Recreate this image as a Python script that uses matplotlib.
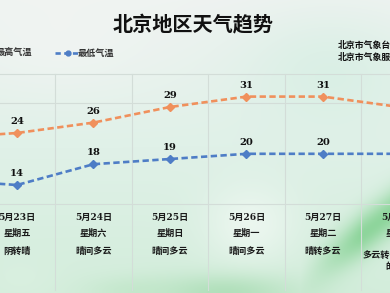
import numpy as np
import matplotlib
matplotlib.use("Agg")
import matplotlib.pyplot as plt
from matplotlib.colors import to_rgb

plt.rcParams['font.family'] = ['Noto Sans CJK SC', 'DejaVu Sans']

# ---------------- data ----------------
dates = ["5月22日", "5月23日", "5月24日", "5月25日", "5月26日", "5月27日", "5月28日"]
weekdays = ["星期四", "星期五", "星期六", "星期日", "星期一", "星期二", "星期三"]
weather = ["晴", "阴转晴", "晴间多云", "晴间多云", "晴间多云", "晴转多云", "多云转午后有分散\n的阵雨"]
high = [23, 24, 26, 29, 31, 31, 29]
low = [15, 14, 18, 19, 20, 20, 20]
title = "北京地区天气趋势"
legend_high = "最高气温"
legend_low = "最低气温"
source_lines = ["北京市气象台", "北京市气象服务中心"]
label_idx = [1, 2, 3, 4, 5]      # points whose value labels are visible
text_idx = [1, 2, 3, 4, 5, 6]    # columns whose labels are visible

W, H = 390, 293
C_HIGH = "#F0905C"
C_LOW = "#4E7DC6"

fig = plt.figure(figsize=(W / 100, H / 100), dpi=100)

# ---------------- background ----------------
yy, xx = np.mgrid[0:H, 0:W].astype(float)
top = np.array(to_rgb("#eff3f1"))
mid = np.array(to_rgb("#e0f1e8"))
bot = np.array(to_rgb("#d3eddb"))
t = (yy / H)[..., None]
bg = np.where(t < 0.5, top + (mid - top) * (t / 0.5), mid + (bot - mid) * ((t - 0.5) / 0.5))

def blob(cx, cy, sx, sy, col, s):
    global bg
    w = s * np.exp(-(((xx - cx) / sx) ** 2 + ((yy - cy) / sy) ** 2))[..., None]
    bg = bg * (1 - w) + np.array(to_rgb(col)) * w

blob(330, 70, 90, 60, "#d2eee1", 0.6)
blob(60, 40, 90, 50, "#f3f5f4", 0.6)
blob(250, 225, 45, 40, "#f7fbf8", 0.6)
blob(225, 292, 70, 18, "#9fd9aa", 0.65)
blob(130, 290, 45, 14, "#b8e4c0", 0.45)
# diagonal bright green streak bottom-right
d = ((xx - 300) * 0.6 + (yy - 293) * 0.8)
w = 0.8 * np.exp(-((d + 10) / 18) ** 2) * np.clip((xx - 300) / 60, 0, 1)
bg = bg * (1 - w[..., None]) + np.array(to_rgb("#7ccf8b")) * w[..., None]
blob(20, 280, 40, 25, "#dff2e4", 0.4)
bg = np.clip(bg, 0, 1)

ax_bg = fig.add_axes([0, 0, 1, 1])
ax_bg.imshow(bg, extent=[0, W, H, 0], aspect="auto", interpolation="bilinear")
ax_bg.set_xlim(0, W)
ax_bg.set_ylim(H, 0)
ax_bg.axis("off")

# ---------------- main axes ----------------
ax = fig.add_axes([0, 0, 1, 1])
ax.patch.set_alpha(0)
x = np.arange(len(dates))
step = 76.5
x0px = 17.0   # pixel of index 1
ax.set_xlim(1 - x0px / step, 1 + (W - x0px) / step)
scale = 5.2
ylo, yhi = 24 - (H - 133) / scale, 24 + 133 / scale
ax.set_ylim(ylo, yhi)
ax.axis("off")

def fy(py):
    return 1 - py / H

# grid lines
grid_c = "#d3ddd8"
for b in x[:-1] + 0.5:
    ax.axvline(b, ymin=fy(290), ymax=fy(74), color=grid_c, lw=0.8, zorder=1)
for py in [74, 103, 204]:
    ax.axhline(ylo + (yhi - ylo) * fy(py), color=grid_c, lw=0.8, zorder=1)

# lines
for vals, col in [(high, C_HIGH), (low, C_LOW)]:
    ax.plot(x, vals, color=col, lw=1.9, dashes=(2.4, 1.3), marker="D", ms=4,
            mfc=col, mec=col, zorder=3)
    for i in label_idx:
        ax.annotate(str(vals[i]), (x[i], vals[i]), xytext=(0, 8.2), textcoords="offset points",
                    ha="center", va="center", fontsize=7.2, fontweight="bold",
                    family="DejaVu Serif", color="#111111", zorder=4)

# bottom labels
tr = ax.get_xaxis_transform()
for i in text_idx:
    ax.text(x[i], fy(217), dates[i], transform=tr, ha="center", va="center",
            fontsize=6.6, fontweight="bold", family=["DejaVu Serif", "Noto Sans CJK SC"],
            color="#1a1a1a")
    ax.text(x[i], fy(233), weekdays[i], transform=tr, ha="center", va="center",
            fontsize=6.6, fontweight="bold", color="#1a1a1a")
    ax.text(x[i], fy(251), weather[i], transform=tr, ha="center",
            va="top" if "\n" in weather[i] else "center",
            fontsize=6.6, fontweight="bold", color="#1a1a1a", linespacing=1.3)

# title
fig.text(193 / W, fy(25), title, ha="center", va="center", fontsize=14.5,
         fontweight="bold", color="#111111")

# legend
fig.text(-4 / W, fy(53), legend_high, ha="left", va="center", fontsize=6.6,
         fontweight="bold", color="#333333")
fig.lines.append(plt.Line2D([55 / W, 80 / W], [fy(53), fy(53)], transform=fig.transFigure,
                            color=C_LOW, lw=1.9, dashes=(2.0, 1.3)))
fig.lines.append(plt.Line2D([67.5 / W], [fy(53)], transform=fig.transFigure, color=C_LOW,
                            marker="o", ms=3.5, lw=0))
fig.text(78 / W, fy(53), legend_low, ha="left", va="center", fontsize=6.6,
         fontweight="bold", color="#333333")

# source
for k, s in enumerate(source_lines):
    fig.text(338 / W, fy(45 + 12 * k), s, ha="left", va="center", fontsize=6.4,
             fontweight="bold", color="#111111")

fig.savefig("out.png", dpi=100)
